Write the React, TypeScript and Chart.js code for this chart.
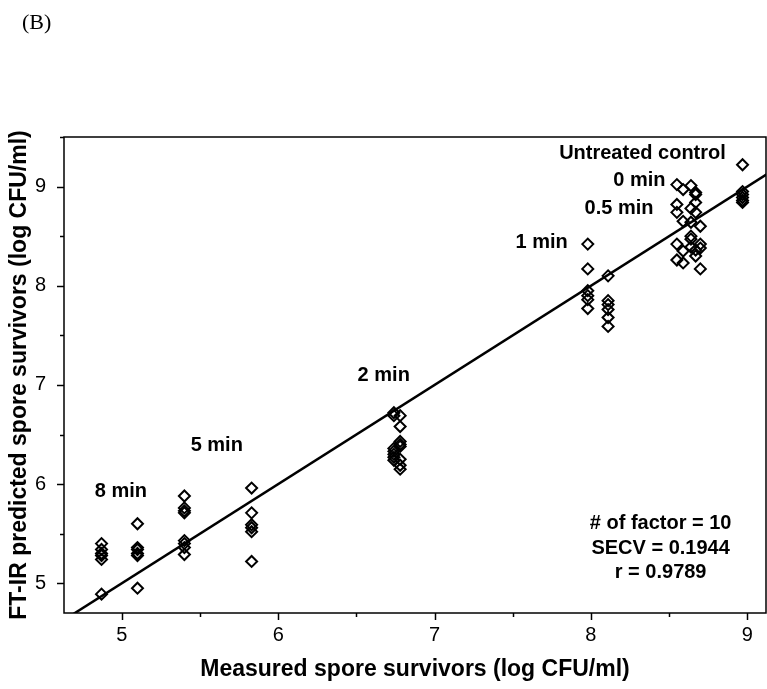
import React, { useEffect, useRef } from "react";
import { Chart, registerables } from "chart.js";

Chart.register(...registerables);

// Measured (plate count) vs FT-IR predicted spore survivors, log CFU/ml
const min8Measured = [4.87, 4.87, 4.87, 4.87, 4.87, 4.87, 5.1, 5.1, 5.1, 5.1, 5.1, 5.1];
const min8Predicted = [5.4, 5.34, 5.3, 5.28, 5.24, 4.89, 5.6, 5.36, 5.34, 5.3, 5.28, 4.95];

const min5Measured = [5.4, 5.4, 5.4, 5.4, 5.4, 5.4, 5.4, 5.4, 5.83, 5.83, 5.83, 5.83, 5.83, 5.83];
const min5Predicted = [5.88, 5.76, 5.73, 5.71, 5.43, 5.4, 5.36, 5.29, 5.96, 5.71, 5.59, 5.56, 5.52, 5.22];

const min2Measured = [6.74, 6.74, 6.74, 6.74, 6.74, 6.74, 6.74, 6.78, 6.78, 6.78, 6.78, 6.78, 6.78, 6.78, 6.78];
const min2Predicted = [6.72, 6.69, 6.36, 6.33, 6.3, 6.27, 6.24, 6.69, 6.58, 6.43, 6.4, 6.38, 6.25, 6.19, 6.15];

const min1Measured = [7.98, 7.98, 7.98, 7.98, 7.98, 7.98, 8.11, 8.11, 8.11, 8.11, 8.11, 8.11];
const min1Predicted = [8.42, 8.17, 7.95, 7.9, 7.86, 7.77, 8.1, 7.85, 7.81, 7.76, 7.68, 7.59];

const min05Measured = [8.55, 8.55, 8.59, 8.59, 8.64, 8.64, 8.64, 8.67, 8.67, 8.7, 8.7, 8.7];
const min05Predicted = [8.42, 8.26, 8.35, 8.23, 8.5, 8.47, 8.39, 8.36, 8.3, 8.42, 8.38, 8.17];

const min0Measured = [8.55, 8.55, 8.55, 8.59, 8.59, 8.64, 8.64, 8.64, 8.67, 8.67, 8.67, 8.67, 8.7];
const min0Predicted = [9.02, 8.82, 8.74, 8.97, 8.65, 9.01, 8.78, 8.64, 8.94, 8.92, 8.84, 8.74, 8.6];

const controlMeasured = [8.97, 8.97, 8.97, 8.97, 8.97, 8.97];
const controlPredicted = [9.22, 8.95, 8.92, 8.89, 8.86, 8.84];

// 1:1 reference line
const lineEnds = [4.6, 9.2];

const xRange = [4.63, 9.12];
const yRange = [4.7, 9.5];
const tickStep = 0.5;

const statLines = ["# of factor = 10", "SECV = 0.1944", "r = 0.9789"];

const FONT = "'Liberation Sans', Arial, Helvetica, sans-serif";

const pairs = (xs: number[], ys: number[]) => xs.map((x, i) => ({ x, y: ys[i] }));

// group labels placed in data units
const groupLabels = [
  { text: "Untreated control", x: 8.33, y: 9.33 },
  { text: "0 min", x: 8.31, y: 9.06 },
  { text: "0.5 min", x: 8.18, y: 8.78 },
  { text: "1 min", x: 7.685, y: 8.44 },
  { text: "2 min", x: 6.675, y: 7.1 },
  { text: "5 min", x: 5.607, y: 6.39 },
  { text: "8 min", x: 4.994, y: 5.93 },
];

const decorations = {
  id: "decorations",
  afterDraw(chart: any) {
    const { ctx, chartArea, scales } = chart;
    const xs = scales.x;
    const ys = scales.y;
    ctx.save();
    ctx.strokeStyle = "#000";
    ctx.lineWidth = 1.5;
    ctx.strokeRect(chartArea.left, chartArea.top, chartArea.right - chartArea.left, chartArea.bottom - chartArea.top);

    for (const t of xs.ticks) {
      const px = Math.round(xs.getPixelForValue(t.value)) + 0.5;
      const len = Number.isInteger(t.value) ? 7 : 4;
      ctx.beginPath();
      ctx.moveTo(px, chartArea.bottom);
      ctx.lineTo(px, chartArea.bottom + len);
      ctx.stroke();
    }
    for (const t of ys.ticks) {
      const py = Math.round(ys.getPixelForValue(t.value)) + 0.5;
      const len = Number.isInteger(t.value) ? 7 : 4;
      ctx.beginPath();
      ctx.moveTo(chartArea.left, py);
      ctx.lineTo(chartArea.left - len, py);
      ctx.stroke();
    }

    ctx.fillStyle = "#000";
    ctx.font = `bold 20px ${FONT}`;
    ctx.textAlign = "center";
    ctx.textBaseline = "middle";
    for (const l of groupLabels) {
      ctx.fillText(l.text, xs.getPixelForValue(l.x), ys.getPixelForValue(l.y));
    }
    const sx = xs.getPixelForValue(8.446);
    const sy = [5.6, 5.347, 5.104];
    statLines.forEach((s, i) => ctx.fillText(s, sx, ys.getPixelForValue(sy[i])));

    ctx.font = "22px 'Liberation Serif', 'Times New Roman', serif";
    ctx.textAlign = "left";
    ctx.fillText("(B)", 22, 23);
    ctx.restore();
  },
};

export default function App() {
  const ref = useRef<HTMLCanvasElement | null>(null);

  useEffect(() => {
    if (!ref.current) return;
    const marker = {
      showLine: false,
      pointStyle: "rectRot" as const,
      pointRadius: 5.5,
      pointBorderWidth: 2,
      pointBorderColor: "#000",
      pointBackgroundColor: "rgba(0,0,0,0)",
    };
    const groups = [
      pairs(min8Measured, min8Predicted),
      pairs(min5Measured, min5Predicted),
      pairs(min2Measured, min2Predicted),
      pairs(min1Measured, min1Predicted),
      pairs(min05Measured, min05Predicted),
      pairs(min0Measured, min0Predicted),
      pairs(controlMeasured, controlPredicted),
    ];
    const chart = new Chart(ref.current, {
      type: "scatter",
      data: {
        datasets: [
          {
            type: "line",
            data: lineEnds.map((v) => ({ x: v, y: v })),
            borderColor: "#000",
            borderWidth: 2.5,
            pointRadius: 0,
            fill: false,
          } as any,
          ...groups.map((g) => ({ data: g, ...marker })),
        ],
      },
      options: {
        animation: false,
        responsive: false,
        layout: { autoPadding: false, padding: { top: 137, right: 1, left: 0, bottom: 0 } },
        plugins: { legend: { display: false }, tooltip: { enabled: false } },
        scales: {
          x: {
            type: "linear",
            min: xRange[0],
            max: xRange[1],
            afterFit: (s: any) => {
              s.height = 76;
              s.paddingLeft = 0;
              s.paddingRight = 0;
            },
            border: { display: false },
            grid: { display: true, drawOnChartArea: false, drawTicks: false },
            ticks: {
              stepSize: tickStep,
              includeBounds: false,
              autoSkip: false,
              maxRotation: 0,
              padding: 10,
              color: "#000",
              font: { family: FONT, size: 20 },
              callback: (v: any) => (Number.isInteger(v) ? String(v) : ""),
            },
            title: {
              display: true,
              text: "Measured spore survivors (log CFU/ml)",
              color: "#000",
              font: { family: FONT, size: 23, weight: "bold" },
              padding: { top: 0, bottom: 6 },
            },
          },
          y: {
            type: "linear",
            min: yRange[0],
            max: yRange[1],
            afterFit: (s: any) => {
              s.width = 64;
              s.paddingTop = 0;
              s.paddingBottom = 0;
            },
            border: { display: false },
            grid: { display: true, drawOnChartArea: false, drawTicks: false },
            ticks: {
              stepSize: tickStep,
              includeBounds: false,
              autoSkip: false,
              padding: 18,
              color: "#000",
              font: { family: FONT, size: 20 },
              callback: (v: any) => (Number.isInteger(v) ? String(v) : ""),
            },
            title: {
              display: true,
              text: "FT-IR predicted spore survivors (log CFU/ml)",
              color: "#000",
              font: { family: FONT, size: 23, weight: "bold" },
              padding: { top: 6, bottom: 0 },
            },
          },
        },
      },
      plugins: [decorations],
    });
    return () => chart.destroy();
  }, []);

  return (
    <div style={{ position: "absolute", left: 0, top: 0, width: 767, height: 689, background: "#fff" }}>
      <canvas ref={ref} width={767} height={689} />
    </div>
  );
}
